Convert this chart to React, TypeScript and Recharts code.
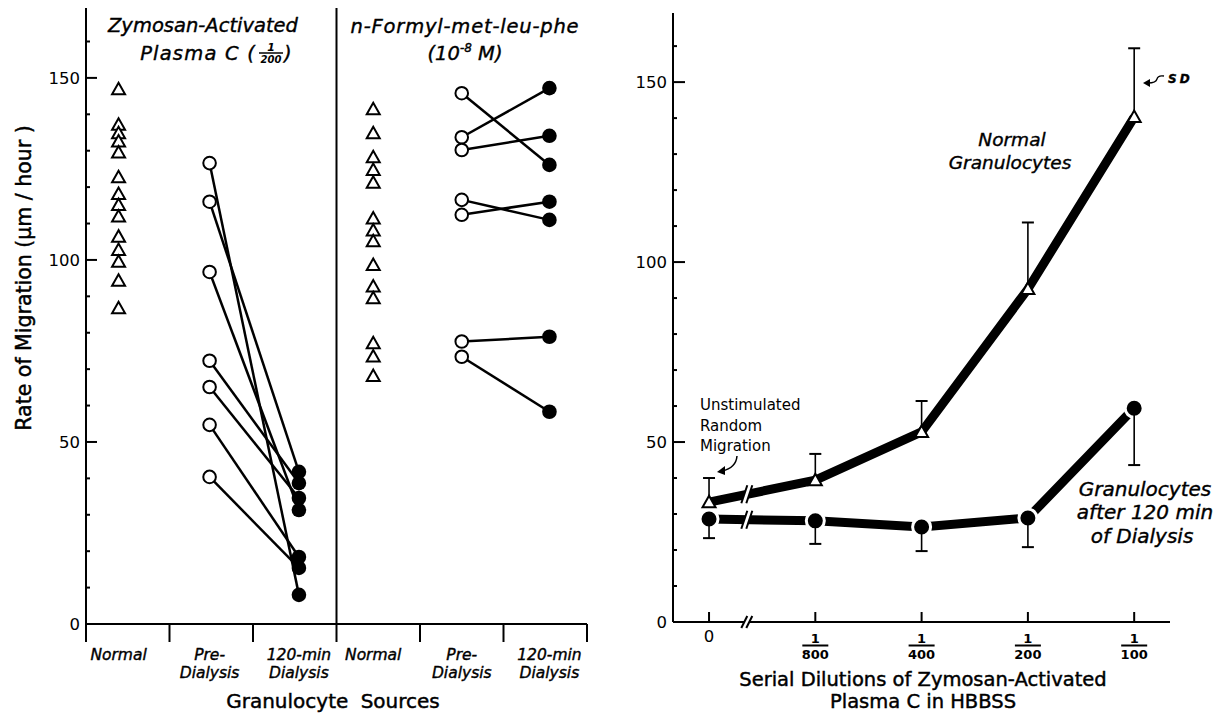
import React from 'react'
import { ComposedChart, Scatter, Line, XAxis, YAxis, ReferenceLine, ReferenceDot } from 'recharts'

// left figure: one value per donor (µm/hour)
const zymNormal = [146.9, 137.1, 134.8, 132.5, 129.5, 122.7, 118.1, 115.1, 111.9, 106.4, 102.7, 99.5, 94.3, 86.7]
const zymPre = [126.6, 116, 96.7, 72.3, 65.1, 54.7, 40.4]
const zymPost = [8, 41.8, 31.3, 38.7, 34.6, 18.4, 15.4]
const fmlpNormal = [141.4, 134.8, 128.2, 124.7, 121.2, 111.4, 108.1, 105.1, 98.6, 92.7, 89.5, 77.1, 73.5, 68.1]
const fmlpPre = [145.8, 133.7, 130.2, 116.5, 112.4, 77.6, 73.4]
const fmlpPost = [126.1, 147.2, 134.1, 111, 116, 78.9, 58.3]
const groupLabels = [['Normal'], ['Pre-', 'Dialysis'], ['120-min', 'Dialysis'], ['Normal'], ['Pre-', 'Dialysis'], ['120-min', 'Dialysis']]

// right figure: mean and SD per dilution
const dilutionDenoms = ['', '800', '400', '200', '100']
const normalMean = [33.3, 39.4, 52.8, 92.5, 140.3]
const normalSD = [6.7, 7.3, 8.6, 18.5, 19.1]
const dialMean = [28.6, 28.1, 26.4, 28.9, 59.4]
const dialSD = [5.3, 6.4, 6.7, 8.1, 15.8]

const yTicks = [0, 10, 20, 30, 40, 50, 60, 70, 80, 90, 100, 110, 120, 130, 140, 150, 160]
const yLabelled = [0, 50, 100, 150]

// layout
const FONT = '"DejaVu Sans", sans-serif'
const GROUP_POS = [0.39, 1.48, 2.55, 3.44, 4.5, 5.55]
const BREAK_POS = 0.36
const Y_DOMAIN: [number, number] = [0, 169.2]

const Triangle = ({ cx, cy }: any) => (
    <polygon
        points={`${cx},${cy - 6.5} ${cx - 6.5},${cy + 5} ${cx + 6.5},${cy + 5}`}
        fill="#fff"
        stroke="#000"
        strokeWidth={2}
    />
)

const PairDot = (props: any) => {
    const { cx, cy, payload } = props
    if (payload?.kind === 'pre') {
        return <circle cx={cx} cy={cy} r={6.3} fill="#fff" stroke="#000" strokeWidth={2} />
    }
    return <circle cx={cx} cy={cy} r={7.3} fill="#000" />
}

const WhiskerEnd = (props: any) => {
    const { cx, cy, payload } = props
    if (!payload?.end) return <g />
    return <line x1={cx - 6} y1={cy} x2={cx + 6} y2={cy} stroke="#000" strokeWidth={2} />
}

const BreakMark = ({ cx, cy, h }: any) => (
    <g>
        <polygon points={`${cx - 6},${cy + h} ${cx - 1},${cy + h} ${cx + 5},${cy - h} ${cx},${cy - h}`} fill="#fff" />
        <line x1={cx - 6} y1={cy + h} x2={cx} y2={cy - h} stroke="#000" strokeWidth={2} />
        <line x1={cx - 1} y1={cy + h} x2={cx + 5} y2={cy - h} stroke="#000" strokeWidth={2} />
    </g>
)

const YTick = ({ x, y, payload, major }: any) => {
    const v = payload.value
    const isMajor = yLabelled.includes(v)
    return (
        <g>
            <line x1={x} y1={y} x2={x + (isMajor ? major : 4)} y2={y} stroke="#000" strokeWidth={2} />
            {isMajor && (
                <text x={x - 6} y={y} dy="0.36em" textAnchor="end" fontSize={16.5} fontFamily={FONT} fill="#000">
                    {v}
                </text>
            )}
        </g>
    )
}

const GroupTick = ({ x, y, payload }: any) => {
    const v = payload.value
    if (Number.isInteger(v)) {
        return <line x1={x} y1={y} x2={x} y2={y + 18} stroke="#000" strokeWidth={2} />
    }
    const lines = groupLabels[GROUP_POS.indexOf(v)] || []
    return (
        <text x={x} y={y + 36} textAnchor="middle" fontSize={15.5} fontStyle="italic" fontFamily={FONT}
            fill="#000" stroke="#000" strokeWidth={0.4}>
            {lines.map((t, i) => (
                <tspan key={t + i} x={x} dy={i === 0 ? 0 : 18}>{t}</tspan>
            ))}
        </text>
    )
}

const DilutionTick = ({ x, y, payload }: any) => {
    const denom = dilutionDenoms[payload.value]
    return (
        <g>
            <line x1={x} y1={y} x2={x} y2={y - 10} stroke="#000" strokeWidth={2} />
            {denom === '' ? (
                <text x={x} y={y + 20} textAnchor="middle" fontSize={16.5} fontFamily={FONT} fill="#000">0</text>
            ) : (
                <g fontFamily={FONT} fontWeight="bold" fontSize={13} fill="#000">
                    <text x={x} y={y + 21} textAnchor="middle">1</text>
                    <line x1={x - 13} y1={y + 23.5} x2={x + 13} y2={y + 23.5} stroke="#000" strokeWidth={2} />
                    <text x={x} y={y + 37} textAnchor="middle">{denom}</text>
                </g>
            )}
        </g>
    )
}

function DonorPanel() {
    const ticks = [0, 1, 2, 3, 4, 5, 6, ...GROUP_POS].sort((a, b) => a - b)
    const pairs = [
        ...zymPre.map((pre, i) => [
            { x: GROUP_POS[1], y: pre, kind: 'pre' },
            { x: GROUP_POS[2], y: zymPost[i], kind: 'post' },
        ]),
        ...fmlpPre.map((pre, i) => [
            { x: GROUP_POS[4], y: pre, kind: 'pre' },
            { x: GROUP_POS[5], y: fmlpPost[i], kind: 'post' },
        ]),
    ]
    return (
        <ComposedChart width={620} height={715} margin={{ top: 8, right: 33, bottom: 61, left: 26 }}>
            <XAxis type="number" dataKey="x" domain={[0, 6]} ticks={ticks} interval={0} height={30}
                allowDataOverflow axisLine={{ stroke: '#000', strokeWidth: 2 }} tickLine={false}
                tickSize={0} tickMargin={0} tick={(p: any) => <GroupTick {...p} />} />
            <YAxis type="number" dataKey="y" domain={Y_DOMAIN} ticks={yTicks} interval={0} width={60}
                allowDataOverflow axisLine={{ stroke: '#000', strokeWidth: 2 }} tickLine={false}
                tickSize={0} tickMargin={0} tick={(p: any) => <YTick {...p} major={11} />} />
            <ReferenceLine x={3} stroke="#000" strokeWidth={2} />
            <Scatter data={zymNormal.map(y => ({ x: GROUP_POS[0], y }))} shape={(p: any) => <Triangle {...p} />}
                isAnimationActive={false} />
            <Scatter data={fmlpNormal.map(y => ({ x: GROUP_POS[3], y }))} shape={(p: any) => <Triangle {...p} />}
                isAnimationActive={false} />
            {pairs.map((pts, i) => (
                <Scatter key={'pair' + i} data={pts} line={{ stroke: '#000', strokeWidth: 2.5 }} lineType="joint"
                    shape={PairDot} isAnimationActive={false} />
            ))}
        </ComposedChart>
    )
}

function DilutionPanel() {
    const rows = normalMean.map((m, i) => ({ x: i, normal: m, dial: dialMean[i] }))
    const whiskers = [
        ...normalMean.map((m, i) => [{ x: i, y: m }, { x: i, y: m + normalSD[i], end: true }]),
        ...dialMean.map((m, i) => [{ x: i, y: m }, { x: i, y: m - dialSD[i], end: true }]),
    ]
    const normalAtBreak = normalMean[0] + BREAK_POS * (normalMean[1] - normalMean[0])
    const dialAtBreak = dialMean[0] + BREAK_POS * (dialMean[1] - dialMean[0])
    return (
        <ComposedChart width={606} height={715} data={rows} margin={{ top: 13, right: 56, bottom: 63, left: 20 }}>
            <XAxis type="number" dataKey="x" domain={[-0.339, 4.337]} ticks={[0, 1, 2, 3, 4]} interval={0} height={30}
                allowDataOverflow axisLine={{ stroke: '#000', strokeWidth: 2 }} tickLine={false}
                tickSize={0} tickMargin={0} tick={(p: any) => <DilutionTick {...p} />} />
            <YAxis type="number" dataKey="y" domain={Y_DOMAIN} ticks={yTicks} interval={0} width={33}
                allowDataOverflow axisLine={{ stroke: '#000', strokeWidth: 2 }} tickLine={false}
                tickSize={0} tickMargin={0} tick={(p: any) => <YTick {...p} major={12} />} />
            <Line dataKey="dial" stroke="#000" strokeWidth={9} type="linear" isAnimationActive={false}
                dot={(p: any) => <circle key={'d' + p.index} cx={p.cx} cy={p.cy} r={9} fill="#000" stroke="#fff" strokeWidth={3} />} />
            {whiskers.map((pts, i) => (
                <Scatter key={'w' + i} data={pts} line={{ stroke: '#000', strokeWidth: 1.6 }} lineType="joint"
                    shape={WhiskerEnd} isAnimationActive={false} />
            ))}
            <Line dataKey="normal" stroke="#000" strokeWidth={9} type="linear" isAnimationActive={false}
                dot={(p: any) => <Triangle key={'n' + p.index} cx={p.cx} cy={p.cy} />} />
            <ReferenceDot x={BREAK_POS} y={normalAtBreak} ifOverflow="visible"
                shape={(p: any) => <BreakMark cx={p.cx} cy={p.cy} h={9} />} />
            <ReferenceDot x={BREAK_POS} y={dialAtBreak} ifOverflow="visible"
                shape={(p: any) => <BreakMark cx={p.cx} cy={p.cy} h={9} />} />
            <ReferenceDot x={BREAK_POS} y={0} ifOverflow="visible"
                shape={(p: any) => <BreakMark cx={p.cx} cy={p.cy} h={6} />} />
        </ComposedChart>
    )
}

function Annotations() {
    const italic = { fontFamily: FONT, fontStyle: 'italic', fill: '#000', stroke: '#000', strokeWidth: 0.4 } as const
    const plain = { fontFamily: FONT, fill: '#000' } as const
    const medium = { fontFamily: FONT, fill: '#000', stroke: '#000', strokeWidth: 0.45 } as const
    return (
        <svg width={1226} height={715} style={{ position: 'absolute', left: 0, top: 0, pointerEvents: 'none' }}>
            {/* panel titles */}
            <text x={203} y={32} textAnchor="middle" fontSize={19.5} {...italic}>Zymosan-Activated</text>
            <text x={256} y={60} textAnchor="end" fontSize={19.5} letterSpacing={1.2} {...italic}>Plasma C (</text>
            <g {...plain} fontWeight="bold" fontStyle="italic">
                <text x={271} y={51} textAnchor="middle" fontSize={11}>1</text>
                <line x1={259} y1={53} x2={283} y2={53} stroke="#000" strokeWidth={1.5} />
                <text x={271} y={63} textAnchor="middle" fontSize={10}>200</text>
            </g>
            <text x={284} y={60} fontSize={19.5} {...italic}>)</text>
            <text x={465} y={33} textAnchor="middle" fontSize={19.5} letterSpacing={0.8} {...italic}>n-Formyl-met-leu-phe</text>
            <text x={465} y={60} textAnchor="middle" fontSize={19.5} {...italic}>
                (10<tspan dy={-8} fontSize={12}>-8</tspan><tspan dy={8}> M)</tspan>
            </text>

            {/* left axis titles */}
            <text transform="translate(31,278) rotate(-90)" textAnchor="middle" fontSize={20.5} {...medium}>
                Rate of Migration (µm / hour )
            </text>
            <text x={333} y={708} textAnchor="middle" fontSize={20} wordSpacing={6} {...medium}>Granulocyte Sources</text>

            {/* right panel labels */}
            <text x={700} y={410} fontSize={15} {...plain}>Unstimulated</text>
            <text x={700} y={431} fontSize={15} {...plain}>Random</text>
            <text x={700} y={451} fontSize={15} {...plain}>Migration</text>
            <path d="M737 456 Q736 468 722 471" fill="none" stroke="#000" strokeWidth={1.5} />
            <path d="M717 472 L725 466 L725 475 Z" fill="#000" />

            <text x={1012} y={146} textAnchor="middle" fontSize={18.5} {...italic}>Normal</text>
            <text x={1010} y={169} textAnchor="middle" fontSize={18.5} {...italic}>Granulocytes</text>

            <text x={1168} y={83} fontSize={12} fontWeight="bold" letterSpacing={3} {...italic}>SD</text>
            <path d="M1164 76 q-6 -1 -7 3 q-1 4 -9 4" fill="none" stroke="#000" strokeWidth={1.3} />
            <path d="M1143 83 L1150 79 L1150 87 Z" fill="#000" />

            <text x={1145} y={496} textAnchor="middle" fontSize={20} {...italic}>Granulocytes</text>
            <text x={1145} y={519} textAnchor="middle" fontSize={20} {...italic}>after 120 min</text>
            <text x={1142} y={543} textAnchor="middle" fontSize={20} {...italic}>of Dialysis</text>

            <text x={923} y={686} textAnchor="middle" fontSize={19.5} {...medium}>Serial Dilutions of Zymosan-Activated</text>
            <text x={923} y={708} textAnchor="middle" fontSize={19.5} {...medium}>Plasma C in HBBSS</text>
        </svg>
    )
}

export default function App() {
    return (
        <div style={{ position: 'absolute', left: 0, top: 0, width: 1226, height: 715, background: '#fff', overflow: 'hidden' }}>
            <div style={{ position: 'absolute', left: 0, top: 0 }}>
                <DonorPanel />
            </div>
            <div style={{ position: 'absolute', left: 620, top: 0 }}>
                <DilutionPanel />
            </div>
            <Annotations />
        </div>
    )
}
